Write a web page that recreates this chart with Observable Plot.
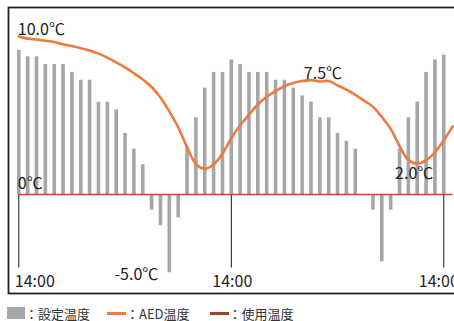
<!DOCTYPE html>
<html>
<head>
<meta charset="utf-8">
<script src="https://cdn.jsdelivr.net/npm/d3@7"></script>
<script src="https://cdn.jsdelivr.net/npm/@observablehq/plot@0.6"></script>
<style>
  html, body { margin: 0; padding: 0; background: #fff; }
  body { width: 454px; height: 321px; overflow: hidden; font-family: "Noto Sans CJK JP", sans-serif; }
  #legend { display: flex; align-items: center; height: 16px; padding-top: 5px; font-size: 13px; color: #333; }
  #legend .sw { width: 18px; height: 12px; background: #a5a6aa; margin-left: 7px; }
  #legend .ln { width: 19px; height: 3px; }
</style>
</head>
<body>
<div id="chart"></div>
<div id="legend">
  <span class="sw"></span><span>：設定温度</span>
  <span class="ln" style="background:#ee7a3d;margin-left:17px"></span><span>：AED温度</span>
  <span class="ln" style="background:#9c4427;margin-left:20px"></span><span>：使用温度</span>
</div>
<script>
// hours since 14:00 (first day)
const hours = d3.range(0, 50);
// set temperature (gray bars), hourly 0..48
const setTemps = [9.2, 8.8, 8.8, 8.3, 8.3, 8.3, 7.8, 7.3, 7.3, 5.9, 5.9, 5.4, 3.9, 2.9, 1.9,
  -1, -2, -5, -1.5, 3.0, 4.9, 6.8, 7.8, 7.8, 8.6, 8.3, 7.8, 7.8, 7.8, 7.3, 7.3, 6.8, 6.3,
  5.9, 4.9, 4.9, 3.9, 3.4, 2.9, 0, -1, -4.3, -1, 2.9, 4.9, 5.9, 7.8, 8.6, 8.9];
// AED temperature (orange line), hourly 0..49
const aedTemps = [10.1, 9.96, 9.9, 9.83, 9.75, 9.6, 9.49, 9.35, 9.2, 9.0, 8.75, 8.45, 8.12,
  7.75, 7.35, 6.87, 6.2, 5.3, 4.3, 3.03, 1.95, 1.65, 1.92, 2.6, 3.6, 4.42, 5.1, 5.75, 6.25,
  6.6, 6.93, 7.13, 7.25, 7.31, 7.22, 7.25, 6.97, 6.7, 6.37, 6.0, 5.6, 4.95, 4.2, 3.1, 2.2,
  1.97, 2.18, 2.7, 3.46, 4.35];
// time axis ticks
const tickHours = [0, 24, 48];
const tickLabels = ["14:00", "14:00", "14:00"];
// value annotations
const annHours = [0, 33, 45, 17, 0];
const annValues = [10.0, 7.5, 2.0, -5.0, 0];
const annLabels = ["10.0℃", "7.5℃", "2.0℃", "-5.0℃", "0℃"];

const bars = setTemps.map((v, i) => ({h: hours[i], v}));
const aed = aedTemps.map((v, i) => ({h: hours[i], v}));
const ticks = tickHours.map((h, i) => ({h, label: tickLabels[i]}));
const anns = annHours.map((h, i) => ({h, v: annValues[i], label: annLabels[i]}));

const annStyle = [
  {textAnchor: "start", dx: -1, dy: -3},
  {textAnchor: "middle", dx: 12, dy: 1.5},
  {textAnchor: "middle", dx: -3, dy: 16},
  {textAnchor: "end", dx: -11, dy: 7},
  {textAnchor: "start", dx: -1, dy: -6}
];
const tickStyle = [
  {textAnchor: "start", dx: -4},
  {textAnchor: "middle", dx: 1},
  {textAnchor: "middle", dx: -5}
];

const chart = Plot.plot({
  width: 454,
  height: 300,
  marginTop: 7,
  marginBottom: 7,
  marginLeft: 8,
  marginRight: 0,
  x: {domain: [-1.163, 49.21], axis: null},
  y: {domain: [-6.326, 11.95], axis: null},
  style: {fontFamily: "'Noto Sans CJK JP', sans-serif", fontSize: "16px", color: "#222", background: "#fff"},
  marks: [
    Plot.ruleX(bars, {x: "h", y1: 0, y2: "v", stroke: "#a5a6aa", strokeWidth: 3.6}),
    Plot.ruleX(ticks, {x: "h", y1: 0, y2: -4.7, stroke: "#111", strokeWidth: 1}),
    Plot.ruleY([0], {x1: hours[0], x2: 49.06, stroke: "#d9413b", strokeWidth: 1.6}),
    Plot.line(aed, {x: "h", y: "v", stroke: "#ee7a3d", strokeWidth: 2.6, curve: "catmull-rom"}),
    ...anns.map((a, i) => Plot.text([a], {x: "h", y: "v", text: "label", lineAnchor: "bottom", fill: "#222", ...annStyle[i]})),
    ...ticks.map((t, i) => Plot.text([t], {x: "h", text: "label", frameAnchor: "bottom", lineAnchor: "bottom", dy: -7, fill: "#222", ...tickStyle[i]})),
    Plot.frame({stroke: "#222", strokeWidth: 1.8, insetRight: -3})
  ]
});
document.getElementById("chart").appendChild(chart);
</script>
</body>
</html>
